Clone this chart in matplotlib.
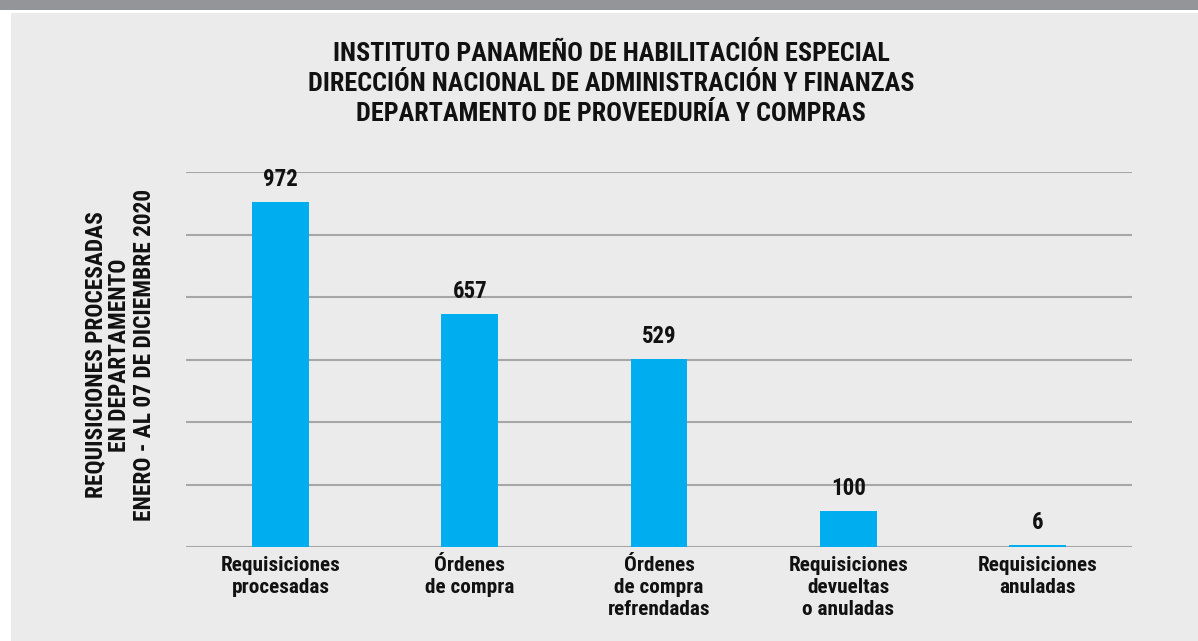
import matplotlib.pyplot as plt
import numpy as np
from matplotlib.patches import Rectangle

# data
categories = ["Requisiciones\nprocesadas", "Órdenes\nde compra",
              "Órdenes\nde compra\nrefrendadas", "Requisiciones\ndevueltas\no anuladas",
              "Requisiciones\nanuladas"]
values = [972, 657, 529, 100, 6]

title_lines = ["INSTITUTO PANAMEÑO DE HABILITACIÓN ESPECIAL",
               "DIRECCIÓN NACIONAL DE ADMINISTRACIÓN Y FINANZAS",
               "DEPARTAMENTO DE PROVEEDURÍA Y COMPRAS"]
ylabel_lines = ["REQUISICIONES PROCESADAS", "EN DEPARTAMENTO",
                "ENERO - AL 07 DE DICIEMBRE 2020"]

FONT = ["Roboto Condensed", "Liberation Sans Narrow", "DejaVu Sans Condensed", "DejaVu Sans"]
plt.rcParams["font.family"] = FONT

BAR = "#00aeef"
PANEL = "#ebebeb"
GRID = "#a6a6a6"


def main():
    fig = plt.figure(figsize=(11.98, 6.41), dpi=100, facecolor="white")
    W, H = 1198, 641

    # background: dark band on top and light grey panel
    fig.patches.append(Rectangle((0, 1 - 10 / H), 1, 10 / H, transform=fig.transFigure,
                                 facecolor="#939598", edgecolor="none", zorder=-2))
    fig.patches.append(Rectangle((11 / W, 0), 1, 1 - 13 / H, transform=fig.transFigure,
                                 facecolor=PANEL, edgecolor="none", zorder=-2))

    ax = fig.add_axes([186 / W, 1 - 547 / H, (1132 - 186) / W, (547 - 172) / H])
    ax.set_facecolor("none")

    x = np.arange(len(values))
    ax.bar(x, values, width=0.30, color=BAR, zorder=3)

    ymax = 1056
    ax.set_ylim(0, ymax)
    ax.set_xlim(-0.5, len(values) - 0.5)
    ax.set_yticks(np.linspace(0, ymax, 7))
    ax.yaxis.grid(True, color=GRID, linewidth=1.5, zorder=0)
    ax.tick_params(axis="y", left=False, labelleft=False)
    ax.tick_params(axis="x", bottom=False, pad=3)
    ax.set_xticks(x)
    ax.set_xticklabels(categories, fontsize=15.3, fontweight="bold", color="#111111",
                       linespacing=1.2)
    for s in ax.spines.values():
        s.set_visible(False)

    for xi, v in zip(x, values):
        ax.annotate(str(v), (xi, v), xytext=(0, 8), textcoords="offset points",
                    ha="center", va="bottom", fontsize=16.5, fontweight="bold",
                    color="#111111")

    fig.text(611 / W, 1 - 84 / H, "\n".join(title_lines), ha="center", va="center",
             fontsize=18.8, fontweight="bold", color="#111111", linespacing=1.3)

    fig.text(120 / W, 1 - 355 / H, "\n".join(ylabel_lines), ha="center", va="center",
             rotation=90, fontsize=16.8, fontweight="bold", color="#111111",
             linespacing=1.08)

    fig.savefig("out.png", dpi=100, facecolor="white")


if __name__ == "__main__":
    main()
